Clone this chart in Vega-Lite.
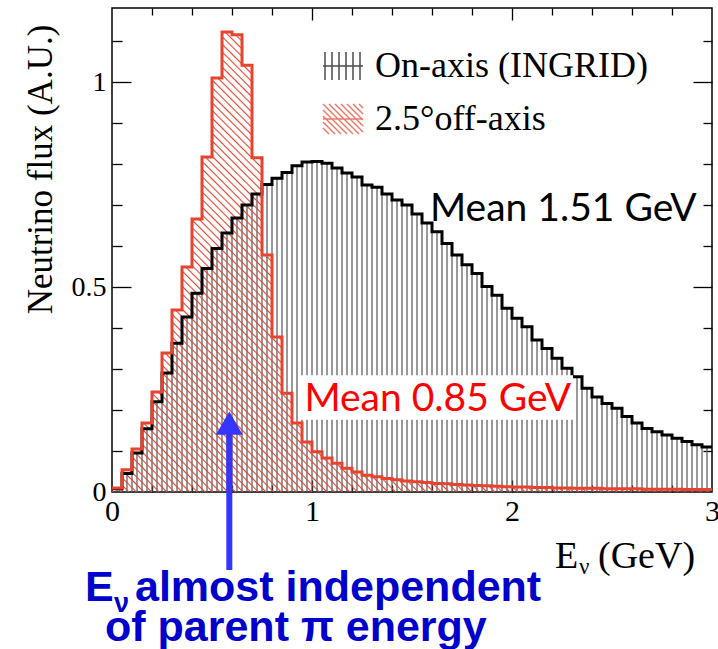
{
"$schema":"https://vega.github.io/schema/vega-lite/v6.json",
"width":600,"height":484,"autosize":"none",
"padding":{"left":112,"top":8,"right":6,"bottom":157},
"background":"white",
"config":{"view":{"stroke":"black","strokeWidth":1.5}},
"datasets":{"h":[
{"lo":0,"on":0.008,"off":0.010},{"lo":0.05,"on":0.045,"off":0.054},{"lo":0.1,"on":0.095,"off":0.105},{"lo":0.15,"on":0.154,"off":0.168},
{"lo":0.2,"on":0.220,"off":0.244},{"lo":0.25,"on":0.290,"off":0.339},{"lo":0.3,"on":0.363,"off":0.444},{"lo":0.35,"on":0.427,"off":0.549},
{"lo":0.4,"on":0.485,"off":0.666},{"lo":0.45,"on":0.545,"off":0.817},{"lo":0.5,"on":0.594,"off":1.010},{"lo":0.55,"on":0.632,"off":1.122},
{"lo":0.6,"on":0.668,"off":1.115},{"lo":0.65,"on":0.700,"off":1.041},{"lo":0.7,"on":0.727,"off":0.815},{"lo":0.75,"on":0.750,"off":0.578},
{"lo":0.8,"on":0.765,"off":0.378},{"lo":0.85,"on":0.779,"off":0.241},{"lo":0.9,"on":0.796,"off":0.168},{"lo":0.95,"on":0.805,"off":0.122},
{"lo":1.0,"on":0.806,"off":0.098},{"lo":1.05,"on":0.802,"off":0.083},{"lo":1.1,"on":0.790,"off":0.070},{"lo":1.15,"on":0.778,"off":0.058},
{"lo":1.2,"on":0.768,"off":0.049},{"lo":1.25,"on":0.749,"off":0.041},{"lo":1.3,"on":0.743,"off":0.037},{"lo":1.35,"on":0.727,"off":0.033},
{"lo":1.4,"on":0.712,"off":0.030},{"lo":1.45,"on":0.700,"off":0.027},{"lo":1.5,"on":0.678,"off":0.025},{"lo":1.55,"on":0.656,"off":0.023},
{"lo":1.6,"on":0.635,"off":0.021},{"lo":1.65,"on":0.606,"off":0.020},{"lo":1.7,"on":0.578,"off":0.018},{"lo":1.75,"on":0.554,"off":0.017},
{"lo":1.8,"on":0.533,"off":0.016},{"lo":1.85,"on":0.501,"off":0.015},{"lo":1.9,"on":0.480,"off":0.014},{"lo":1.95,"on":0.448,"off":0.013},
{"lo":2.0,"on":0.424,"off":0.012},{"lo":2.05,"on":0.403,"off":0.012},{"lo":2.1,"on":0.371,"off":0.011},{"lo":2.15,"on":0.350,"off":0.011},
{"lo":2.2,"on":0.326,"off":0.010},{"lo":2.25,"on":0.302,"off":0.010},{"lo":2.3,"on":0.281,"off":0.009},{"lo":2.35,"on":0.253,"off":0.009},
{"lo":2.4,"on":0.232,"off":0.009},{"lo":2.45,"on":0.216,"off":0.008},{"lo":2.5,"on":0.204,"off":0.008},{"lo":2.55,"on":0.184,"off":0.008},
{"lo":2.6,"on":0.168,"off":0.008},{"lo":2.65,"on":0.155,"off":0.007},{"lo":2.7,"on":0.147,"off":0.007},{"lo":2.75,"on":0.139,"off":0.007},
{"lo":2.8,"on":0.131,"off":0.007},{"lo":2.85,"on":0.123,"off":0.006},{"lo":2.9,"on":0.115,"off":0.006},{"lo":2.95,"on":0.110,"off":0.006},
{"lo":3.0,"on":0.110,"off":0.006}
]},
"layer":[
{"data":{"name":"h"},"transform":[{"filter":"datum.lo < 2.99"}],
 "mark":{"type":"rule","stroke":"#555555","strokeWidth":1.2},
 "encoding":{
  "x":{"field":"lo","type":"quantitative","scale":{"domain":[0,3],"nice":false},
   "axis":{"orient":"bottom","values":[0,1,2,3],"ticks":false,"tickSize":0,"domain":false,"grid":false,"labelFont":"Liberation Serif","labelFontSize":30,"labelColor":"black","labelPadding":4,"labelFlush":false,"labelOverlap":false,"format":"~g","title":null}},
  "y":{"field":"on","type":"quantitative","scale":{"domain":[0,1.1805],"nice":false},
   "axis":{"orient":"left","values":[0,0.5,1],"ticks":false,"tickSize":0,"domain":false,"grid":false,"labelFont":"Liberation Serif","labelFontSize":28,"labelColor":"black","labelPadding":6,"labelFlush":false,"labelOverlap":false,"format":"~g",
    "title":"Neutrino flux (A.U.)","titleFont":"Liberation Serif","titleFontSize":35,"titleFontWeight":"normal","titleColor":"black","titleX":-72,"titleY":161,"titleAngle":-90,"titleAlign":"center","titleBaseline":"middle"}},
  "y2":{"datum":0}}},
{"data":{"name":"h"},"transform":[{"filter":"datum.lo < 2.99"}],
 "mark":{"type":"rule","stroke":"#555555","strokeWidth":1.2,"xOffset":5},
 "encoding":{
  "x":{"field":"lo","type":"quantitative","scale":{"domain":[0,3],"nice":false},
   "axis":{"orient":"bottom","values":[1,2],"labels":false,"domain":false,"grid":false,"tickSize":-12,"tickColor":"black","tickWidth":1.3,"title":null}},
  "y":{"field":"on","type":"quantitative","scale":{"domain":[0,1.1805],"nice":false},
   "axis":{"orient":"left","values":[0.5,1],"labels":false,"domain":false,"grid":false,"tickSize":-19,"tickColor":"black","tickWidth":1.3,"title":null}},
  "y2":{"datum":0}}},
{"data":{"name":"h"},
 "mark":{"type":"area","interpolate":"step-after","fill":{"gradient":"linear","x1":0,"y1":1,"x2":1,"y2":0.233,"stops":[
{"offset":0,"color":"rgba(232,67,47,0)"},{"offset":0.0016,"color":"#e8432f"},{"offset":0.0032,"color":"rgba(232,67,47,0)"},
{"offset":0.008,"color":"rgba(232,67,47,0)"},{"offset":0.0096,"color":"#e8432f"},{"offset":0.0112,"color":"rgba(232,67,47,0)"},
{"offset":0.016,"color":"rgba(232,67,47,0)"},{"offset":0.0176,"color":"#e8432f"},{"offset":0.0192,"color":"rgba(232,67,47,0)"},
{"offset":0.024,"color":"rgba(232,67,47,0)"},{"offset":0.0256,"color":"#e8432f"},{"offset":0.0272,"color":"rgba(232,67,47,0)"},
{"offset":0.032,"color":"rgba(232,67,47,0)"},{"offset":0.0336,"color":"#e8432f"},{"offset":0.0352,"color":"rgba(232,67,47,0)"},
{"offset":0.04,"color":"rgba(232,67,47,0)"},{"offset":0.0416,"color":"#e8432f"},{"offset":0.0432,"color":"rgba(232,67,47,0)"},
{"offset":0.048,"color":"rgba(232,67,47,0)"},{"offset":0.0496,"color":"#e8432f"},{"offset":0.0512,"color":"rgba(232,67,47,0)"},
{"offset":0.056,"color":"rgba(232,67,47,0)"},{"offset":0.0576,"color":"#e8432f"},{"offset":0.0592,"color":"rgba(232,67,47,0)"},
{"offset":0.064,"color":"rgba(232,67,47,0)"},{"offset":0.0656,"color":"#e8432f"},{"offset":0.0672,"color":"rgba(232,67,47,0)"},
{"offset":0.072,"color":"rgba(232,67,47,0)"},{"offset":0.0736,"color":"#e8432f"},{"offset":0.0752,"color":"rgba(232,67,47,0)"},
{"offset":0.08,"color":"rgba(232,67,47,0)"},{"offset":0.0816,"color":"#e8432f"},{"offset":0.0832,"color":"rgba(232,67,47,0)"},
{"offset":0.088,"color":"rgba(232,67,47,0)"},{"offset":0.0896,"color":"#e8432f"},{"offset":0.0912,"color":"rgba(232,67,47,0)"},
{"offset":0.096,"color":"rgba(232,67,47,0)"},{"offset":0.0976,"color":"#e8432f"},{"offset":0.0992,"color":"rgba(232,67,47,0)"},
{"offset":0.104,"color":"rgba(232,67,47,0)"},{"offset":0.1056,"color":"#e8432f"},{"offset":0.1072,"color":"rgba(232,67,47,0)"},
{"offset":0.112,"color":"rgba(232,67,47,0)"},{"offset":0.1136,"color":"#e8432f"},{"offset":0.1152,"color":"rgba(232,67,47,0)"},
{"offset":0.12,"color":"rgba(232,67,47,0)"},{"offset":0.1216,"color":"#e8432f"},{"offset":0.1232,"color":"rgba(232,67,47,0)"},
{"offset":0.128,"color":"rgba(232,67,47,0)"},{"offset":0.1296,"color":"#e8432f"},{"offset":0.1312,"color":"rgba(232,67,47,0)"},
{"offset":0.136,"color":"rgba(232,67,47,0)"},{"offset":0.1376,"color":"#e8432f"},{"offset":0.1392,"color":"rgba(232,67,47,0)"},
{"offset":0.144,"color":"rgba(232,67,47,0)"},{"offset":0.1456,"color":"#e8432f"},{"offset":0.1472,"color":"rgba(232,67,47,0)"},
{"offset":0.152,"color":"rgba(232,67,47,0)"},{"offset":0.1536,"color":"#e8432f"},{"offset":0.1552,"color":"rgba(232,67,47,0)"},
{"offset":0.16,"color":"rgba(232,67,47,0)"},{"offset":0.1616,"color":"#e8432f"},{"offset":0.1632,"color":"rgba(232,67,47,0)"},
{"offset":0.168,"color":"rgba(232,67,47,0)"},{"offset":0.1696,"color":"#e8432f"},{"offset":0.1712,"color":"rgba(232,67,47,0)"},
{"offset":0.176,"color":"rgba(232,67,47,0)"},{"offset":0.1776,"color":"#e8432f"},{"offset":0.1792,"color":"rgba(232,67,47,0)"},
{"offset":0.184,"color":"rgba(232,67,47,0)"},{"offset":0.1856,"color":"#e8432f"},{"offset":0.1872,"color":"rgba(232,67,47,0)"},
{"offset":0.192,"color":"rgba(232,67,47,0)"},{"offset":0.1936,"color":"#e8432f"},{"offset":0.1952,"color":"rgba(232,67,47,0)"},
{"offset":0.2,"color":"rgba(232,67,47,0)"},{"offset":0.2016,"color":"#e8432f"},{"offset":0.2032,"color":"rgba(232,67,47,0)"},
{"offset":0.208,"color":"rgba(232,67,47,0)"},{"offset":0.2096,"color":"#e8432f"},{"offset":0.2112,"color":"rgba(232,67,47,0)"},
{"offset":0.216,"color":"rgba(232,67,47,0)"},{"offset":0.2176,"color":"#e8432f"},{"offset":0.2192,"color":"rgba(232,67,47,0)"},
{"offset":0.224,"color":"rgba(232,67,47,0)"},{"offset":0.2256,"color":"#e8432f"},{"offset":0.2272,"color":"rgba(232,67,47,0)"},
{"offset":0.232,"color":"rgba(232,67,47,0)"},{"offset":0.2336,"color":"#e8432f"},{"offset":0.2352,"color":"rgba(232,67,47,0)"},
{"offset":0.24,"color":"rgba(232,67,47,0)"},{"offset":0.2416,"color":"#e8432f"},{"offset":0.2432,"color":"rgba(232,67,47,0)"},
{"offset":0.248,"color":"rgba(232,67,47,0)"},{"offset":0.2496,"color":"#e8432f"},{"offset":0.2512,"color":"rgba(232,67,47,0)"},
{"offset":0.256,"color":"rgba(232,67,47,0)"},{"offset":0.2576,"color":"#e8432f"},{"offset":0.2592,"color":"rgba(232,67,47,0)"},
{"offset":0.264,"color":"rgba(232,67,47,0)"},{"offset":0.2656,"color":"#e8432f"},{"offset":0.2672,"color":"rgba(232,67,47,0)"},
{"offset":0.272,"color":"rgba(232,67,47,0)"},{"offset":0.2736,"color":"#e8432f"},{"offset":0.2752,"color":"rgba(232,67,47,0)"},
{"offset":0.28,"color":"rgba(232,67,47,0)"},{"offset":0.2816,"color":"#e8432f"},{"offset":0.2832,"color":"rgba(232,67,47,0)"},
{"offset":0.288,"color":"rgba(232,67,47,0)"},{"offset":0.2896,"color":"#e8432f"},{"offset":0.2912,"color":"rgba(232,67,47,0)"},
{"offset":0.296,"color":"rgba(232,67,47,0)"},{"offset":0.2976,"color":"#e8432f"},{"offset":0.2992,"color":"rgba(232,67,47,0)"},
{"offset":0.304,"color":"rgba(232,67,47,0)"},{"offset":0.3056,"color":"#e8432f"},{"offset":0.3072,"color":"rgba(232,67,47,0)"},
{"offset":0.312,"color":"rgba(232,67,47,0)"},{"offset":0.3136,"color":"#e8432f"},{"offset":0.3152,"color":"rgba(232,67,47,0)"},
{"offset":0.32,"color":"rgba(232,67,47,0)"},{"offset":0.3216,"color":"#e8432f"},{"offset":0.3232,"color":"rgba(232,67,47,0)"},
{"offset":0.328,"color":"rgba(232,67,47,0)"},{"offset":0.3296,"color":"#e8432f"},{"offset":0.3312,"color":"rgba(232,67,47,0)"},
{"offset":0.336,"color":"rgba(232,67,47,0)"},{"offset":0.3376,"color":"#e8432f"},{"offset":0.3392,"color":"rgba(232,67,47,0)"},
{"offset":0.344,"color":"rgba(232,67,47,0)"},{"offset":0.3456,"color":"#e8432f"},{"offset":0.3472,"color":"rgba(232,67,47,0)"},
{"offset":0.352,"color":"rgba(232,67,47,0)"},{"offset":0.3536,"color":"#e8432f"},{"offset":0.3552,"color":"rgba(232,67,47,0)"},
{"offset":0.36,"color":"rgba(232,67,47,0)"},{"offset":0.3616,"color":"#e8432f"},{"offset":0.3632,"color":"rgba(232,67,47,0)"},
{"offset":0.368,"color":"rgba(232,67,47,0)"},{"offset":0.3696,"color":"#e8432f"},{"offset":0.3712,"color":"rgba(232,67,47,0)"},
{"offset":0.376,"color":"rgba(232,67,47,0)"},{"offset":0.3776,"color":"#e8432f"},{"offset":0.3792,"color":"rgba(232,67,47,0)"},
{"offset":0.384,"color":"rgba(232,67,47,0)"},{"offset":0.3856,"color":"#e8432f"},{"offset":0.3872,"color":"rgba(232,67,47,0)"},
{"offset":0.392,"color":"rgba(232,67,47,0)"},{"offset":0.3936,"color":"#e8432f"},{"offset":0.3952,"color":"rgba(232,67,47,0)"},
{"offset":0.4,"color":"rgba(232,67,47,0)"},{"offset":0.4016,"color":"#e8432f"},{"offset":0.4032,"color":"rgba(232,67,47,0)"},
{"offset":0.408,"color":"rgba(232,67,47,0)"},{"offset":0.4096,"color":"#e8432f"},{"offset":0.4112,"color":"rgba(232,67,47,0)"},
{"offset":0.416,"color":"rgba(232,67,47,0)"},{"offset":0.4176,"color":"#e8432f"},{"offset":0.4192,"color":"rgba(232,67,47,0)"},
{"offset":0.424,"color":"rgba(232,67,47,0)"},{"offset":0.4256,"color":"#e8432f"},{"offset":0.4272,"color":"rgba(232,67,47,0)"},
{"offset":0.432,"color":"rgba(232,67,47,0)"},{"offset":0.4336,"color":"#e8432f"},{"offset":0.4352,"color":"rgba(232,67,47,0)"},
{"offset":0.44,"color":"rgba(232,67,47,0)"},{"offset":0.4416,"color":"#e8432f"},{"offset":0.4432,"color":"rgba(232,67,47,0)"},
{"offset":0.448,"color":"rgba(232,67,47,0)"},{"offset":0.4496,"color":"#e8432f"},{"offset":0.4512,"color":"rgba(232,67,47,0)"},
{"offset":0.456,"color":"rgba(232,67,47,0)"},{"offset":0.4576,"color":"#e8432f"},{"offset":0.4592,"color":"rgba(232,67,47,0)"},
{"offset":0.464,"color":"rgba(232,67,47,0)"},{"offset":0.4656,"color":"#e8432f"},{"offset":0.4672,"color":"rgba(232,67,47,0)"},
{"offset":0.472,"color":"rgba(232,67,47,0)"},{"offset":0.4736,"color":"#e8432f"},{"offset":0.4752,"color":"rgba(232,67,47,0)"},
{"offset":0.48,"color":"rgba(232,67,47,0)"},{"offset":0.4816,"color":"#e8432f"},{"offset":0.4832,"color":"rgba(232,67,47,0)"},
{"offset":0.488,"color":"rgba(232,67,47,0)"},{"offset":0.4896,"color":"#e8432f"},{"offset":0.4912,"color":"rgba(232,67,47,0)"},
{"offset":0.496,"color":"rgba(232,67,47,0)"},{"offset":0.4976,"color":"#e8432f"},{"offset":0.4992,"color":"rgba(232,67,47,0)"},
{"offset":0.504,"color":"rgba(232,67,47,0)"},{"offset":0.5056,"color":"#e8432f"},{"offset":0.5072,"color":"rgba(232,67,47,0)"},
{"offset":0.512,"color":"rgba(232,67,47,0)"},{"offset":0.5136,"color":"#e8432f"},{"offset":0.5152,"color":"rgba(232,67,47,0)"},
{"offset":0.52,"color":"rgba(232,67,47,0)"},{"offset":0.5216,"color":"#e8432f"},{"offset":0.5232,"color":"rgba(232,67,47,0)"},
{"offset":0.528,"color":"rgba(232,67,47,0)"},{"offset":0.5296,"color":"#e8432f"},{"offset":0.5312,"color":"rgba(232,67,47,0)"},
{"offset":0.536,"color":"rgba(232,67,47,0)"},{"offset":0.5376,"color":"#e8432f"},{"offset":0.5392,"color":"rgba(232,67,47,0)"},
{"offset":0.544,"color":"rgba(232,67,47,0)"},{"offset":0.5456,"color":"#e8432f"},{"offset":0.5472,"color":"rgba(232,67,47,0)"},
{"offset":0.552,"color":"rgba(232,67,47,0)"},{"offset":0.5536,"color":"#e8432f"},{"offset":0.5552,"color":"rgba(232,67,47,0)"},
{"offset":0.56,"color":"rgba(232,67,47,0)"},{"offset":0.5616,"color":"#e8432f"},{"offset":0.5632,"color":"rgba(232,67,47,0)"},
{"offset":0.568,"color":"rgba(232,67,47,0)"},{"offset":0.5696,"color":"#e8432f"},{"offset":0.5712,"color":"rgba(232,67,47,0)"},
{"offset":0.576,"color":"rgba(232,67,47,0)"},{"offset":0.5776,"color":"#e8432f"},{"offset":0.5792,"color":"rgba(232,67,47,0)"},
{"offset":0.584,"color":"rgba(232,67,47,0)"},{"offset":0.5856,"color":"#e8432f"},{"offset":0.5872,"color":"rgba(232,67,47,0)"},
{"offset":0.592,"color":"rgba(232,67,47,0)"},{"offset":0.5936,"color":"#e8432f"},{"offset":0.5952,"color":"rgba(232,67,47,0)"},
{"offset":0.6,"color":"rgba(232,67,47,0)"},{"offset":0.6016,"color":"#e8432f"},{"offset":0.6032,"color":"rgba(232,67,47,0)"},
{"offset":0.608,"color":"rgba(232,67,47,0)"},{"offset":0.6096,"color":"#e8432f"},{"offset":0.6112,"color":"rgba(232,67,47,0)"},
{"offset":0.616,"color":"rgba(232,67,47,0)"},{"offset":0.6176,"color":"#e8432f"},{"offset":0.6192,"color":"rgba(232,67,47,0)"},
{"offset":0.624,"color":"rgba(232,67,47,0)"},{"offset":0.6256,"color":"#e8432f"},{"offset":0.6272,"color":"rgba(232,67,47,0)"},
{"offset":0.632,"color":"rgba(232,67,47,0)"},{"offset":0.6336,"color":"#e8432f"},{"offset":0.6352,"color":"rgba(232,67,47,0)"},
{"offset":0.64,"color":"rgba(232,67,47,0)"},{"offset":0.6416,"color":"#e8432f"},{"offset":0.6432,"color":"rgba(232,67,47,0)"},
{"offset":0.648,"color":"rgba(232,67,47,0)"},{"offset":0.6496,"color":"#e8432f"},{"offset":0.6512,"color":"rgba(232,67,47,0)"}
]}},
 "encoding":{
  "x":{"field":"lo","type":"quantitative","scale":{"domain":[0,3],"nice":false},
   "axis":{"orient":"bottom","values":[0.2,0.4,0.6,0.8,1.2,1.4,1.6,1.8,2.2,2.4,2.6,2.8],"labels":false,"domain":false,"grid":false,"tickSize":-7,"tickColor":"black","tickWidth":1.3,"title":null}},
  "y":{"field":"off","type":"quantitative","scale":{"domain":[0,1.1805],"nice":false},
   "axis":{"orient":"left","values":[0.1,0.2,0.3,0.4,0.6,0.7,0.8,0.9,1.1],"labels":false,"domain":false,"grid":false,"tickSize":-10,"tickColor":"black","tickWidth":1.3,"title":null}},
  "y2":{"datum":0}}},
{"data":{"name":"h"},
 "mark":{"type":"line","interpolate":"step-after","stroke":"black","strokeWidth":3,"strokeJoin":"miter"},
 "encoding":{
  "x":{"field":"lo","type":"quantitative","scale":{"domain":[0,3],"nice":false},
   "axis":{"orient":"top","values":[1,2],"labels":false,"domain":false,"grid":false,"tickSize":-12,"tickColor":"black","tickWidth":1.3,"title":null}},
  "y":{"field":"on","type":"quantitative","scale":{"domain":[0,1.1805],"nice":false},
   "axis":{"orient":"right","values":[0.5,1],"labels":false,"domain":false,"grid":false,"tickSize":-19,"tickColor":"black","tickWidth":1.3,"title":null}}}},
{"data":{"name":"h"},
 "mark":{"type":"line","interpolate":"step-after","stroke":"#e8432f","strokeWidth":3,"strokeJoin":"miter"},
 "encoding":{
  "x":{"field":"lo","type":"quantitative","scale":{"domain":[0,3],"nice":false},
   "axis":{"orient":"top","values":[0.2,0.4,0.6,0.8,1.2,1.4,1.6,1.8,2.2,2.4,2.6,2.8],"labels":false,"domain":false,"grid":false,"tickSize":-7,"tickColor":"black","tickWidth":1.3,"title":null}},
  "y":{"field":"off","type":"quantitative","scale":{"domain":[0,1.1805],"nice":false},
   "axis":{"orient":"right","values":[0.1,0.2,0.3,0.4,0.6,0.7,0.8,0.9,1.1],"labels":false,"domain":false,"grid":false,"tickSize":-9,"tickColor":"black","tickWidth":1.3,"title":null}}}},
{"data":{"values":[{}]},
 "mark":{"type":"rect","fill":"white"},
 "encoding":{
  "x":{"datum":0.94,"type":"quantitative","scale":{"domain":[0,3],"nice":false},"axis":null},
  "x2":{"datum":2.305},
  "y":{"datum":0.285,"type":"quantitative","scale":{"domain":[0,1.1805],"nice":false},"axis":null},
  "y2":{"datum":0.176}}},
{"data":{"values":[{"label":"Mean 1.51 GeV"}]},
 "mark":{"type":"text","align":"left","baseline":"alphabetic","font":"Lato","fontSize":39,"fill":"black"},
 "encoding":{"text":{"field":"label"},
  "x":{"datum":1.59,"type":"quantitative","scale":{"domain":[0,3],"nice":false},"axis":null},
  "y":{"datum":0.661,"type":"quantitative","scale":{"domain":[0,1.1805],"nice":false},"axis":null}}},
{"data":{"values":[{"label":"Mean 0.85 GeV"}]},
 "mark":{"type":"text","align":"left","baseline":"alphabetic","font":"Lato","fontSize":39,"fill":"#ff0000"},
 "encoding":{"text":{"field":"label"},
  "x":{"datum":0.962,"type":"quantitative","scale":{"domain":[0,3],"nice":false},"axis":null},
  "y":{"datum":0.1976,"type":"quantitative","scale":{"domain":[0,1.1805],"nice":false},"axis":null}}},
{"data":{"values":[{}]},
 "mark":{"type":"rule","stroke":"#3535ff","strokeWidth":6},
 "encoding":{
  "x":{"datum":0.5866,"type":"quantitative","scale":{"domain":[0,3],"nice":false},"axis":null},
  "y":{"datum":0.16,"type":"quantitative","scale":{"domain":[0,1.1805],"nice":false},"axis":null},
  "y2":{"datum":-0.19}}},
{"data":{"values":[{}]},
 "mark":{"type":"point","shape":"triangle-up","size":720,"filled":true,"fill":"#3535ff","opacity":1},
 "encoding":{
  "x":{"datum":0.5866,"type":"quantitative","scale":{"domain":[0,3],"nice":false},"axis":null},
  "y":{"datum":0.168,"type":"quantitative","scale":{"domain":[0,1.1805],"nice":false},"axis":null}}},
{"data":{"values":[{"label":"E"}]},
 "mark":{"type":"text","align":"left","baseline":"alphabetic","font":"Liberation Sans","fontWeight":"bold","fontSize":43,"fill":"#0000cc"},
 "encoding":{"text":{"field":"label"},
  "x":{"datum":-0.135,"type":"quantitative","scale":{"domain":[0,3],"nice":false},"axis":null},
  "y":{"datum":-0.2659,"type":"quantitative","scale":{"domain":[0,1.1805],"nice":false},"axis":null}}},
{"data":{"values":[{"label":"ν"}]},
 "mark":{"type":"text","align":"left","baseline":"alphabetic","font":"Liberation Sans","fontWeight":"bold","fontSize":27,"fill":"#0000cc"},
 "encoding":{"text":{"field":"label"},
  "x":{"datum":0.01,"type":"quantitative","scale":{"domain":[0,3],"nice":false},"axis":null},
  "y":{"datum":-0.2927,"type":"quantitative","scale":{"domain":[0,1.1805],"nice":false},"axis":null}}},
{"data":{"values":[{"label":"almost independent"}]},
 "mark":{"type":"text","align":"left","baseline":"alphabetic","font":"Liberation Sans","fontWeight":"bold","fontSize":43,"fill":"#0000cc"},
 "encoding":{"text":{"field":"label"},
  "x":{"datum":0.115,"type":"quantitative","scale":{"domain":[0,3],"nice":false},"axis":null},
  "y":{"datum":-0.2659,"type":"quantitative","scale":{"domain":[0,1.1805],"nice":false},"axis":null}}},
{"data":{"values":[{"label":"of parent π energy"}]},
 "mark":{"type":"text","align":"left","baseline":"alphabetic","font":"Liberation Sans","fontWeight":"bold","fontSize":43,"fill":"#0000cc"},
 "encoding":{"text":{"field":"label"},
  "x":{"datum":-0.035,"type":"quantitative","scale":{"domain":[0,3],"nice":false},"axis":null},
  "y":{"datum":-0.3634,"type":"quantitative","scale":{"domain":[0,1.1805],"nice":false},"axis":null}}},
{"data":{"values":[{"label":"E"}]},
 "mark":{"type":"text","align":"left","baseline":"alphabetic","font":"Liberation Serif","fontSize":38,"fill":"black"},
 "encoding":{"text":{"field":"label"},
  "x":{"datum":2.215,"type":"quantitative","scale":{"domain":[0,3],"nice":false},"axis":null},
  "y":{"datum":-0.1854,"type":"quantitative","scale":{"domain":[0,1.1805],"nice":false},"axis":null}}},
{"data":{"values":[{"label":"ν"}]},
 "mark":{"type":"text","align":"left","baseline":"alphabetic","font":"Liberation Serif","fontSize":23,"fill":"black"},
 "encoding":{"text":{"field":"label"},
  "x":{"datum":2.335,"type":"quantitative","scale":{"domain":[0,3],"nice":false},"axis":null},
  "y":{"datum":-0.2,"type":"quantitative","scale":{"domain":[0,1.1805],"nice":false},"axis":null}}},
{"data":{"values":[{"label":"(GeV)"}]},
 "mark":{"type":"text","align":"left","baseline":"alphabetic","font":"Liberation Serif","fontSize":38,"fill":"black"},
 "encoding":{"text":{"field":"label"},
  "x":{"datum":2.43,"type":"quantitative","scale":{"domain":[0,3],"nice":false},"axis":null},
  "y":{"datum":-0.1854,"type":"quantitative","scale":{"domain":[0,1.1805],"nice":false},"axis":null}}},
{"data":{"values":[{"series":"On-axis (INGRID)"},{"series":"2.5°off-axis"}]},
 "mark":{"type":"point","size":0,"filled":false,"strokeWidth":1.5},
 "encoding":{
  "stroke":{"field":"series","type":"nominal","scale":{"domain":["On-axis (INGRID)","2.5°off-axis"],"range":["black","#e8432f"]},
   "legend":{"orient":"none","legendX":210,"legendY":37,"title":null,"labelFont":"Liberation Serif","labelFontSize":36,"labelColor":"black","symbolSize":1600,"symbolStrokeWidth":1.5,"labelOffset":11,"rowPadding":14,"padding":0,"labelLimit":400}},
  "shape":{"field":"series","type":"nominal","scale":{"domain":["On-axis (INGRID)","2.5°off-axis"],"range":[
   "M-0.9,-0.7L-0.9,0.7M-0.55,-0.7L-0.55,0.7M-0.2,-0.7L-0.2,0.7M0.15,-0.7L0.15,0.7M0.5,-0.7L0.5,0.7M0.85,-0.7L0.85,0.7M-1,0L1,0",
   "M-1,0.45L-0.7,0.75M-1,0.15L-0.4,0.75M-1,-0.15L-0.1,0.75M-1,-0.45L0.2,0.75M-1,-0.75L0.5,0.75M-0.7,-0.75L0.8,0.75M-0.4,-0.75L1,0.65M-0.1,-0.75L1,0.35M0.2,-0.75L1,0.05M0.5,-0.75L1,-0.25M0.8,-0.75L1,-0.55M-1,0L1,0"]},
   "legend":{"orient":"none","legendX":210,"legendY":37,"title":null,"labelFont":"Liberation Serif","labelFontSize":36,"labelColor":"black","symbolSize":1600,"symbolStrokeWidth":1.5,"labelOffset":11,"rowPadding":14,"padding":0,"labelLimit":400}}}}
],
"resolve":{"axis":{"x":"independent","y":"independent"}}
}
